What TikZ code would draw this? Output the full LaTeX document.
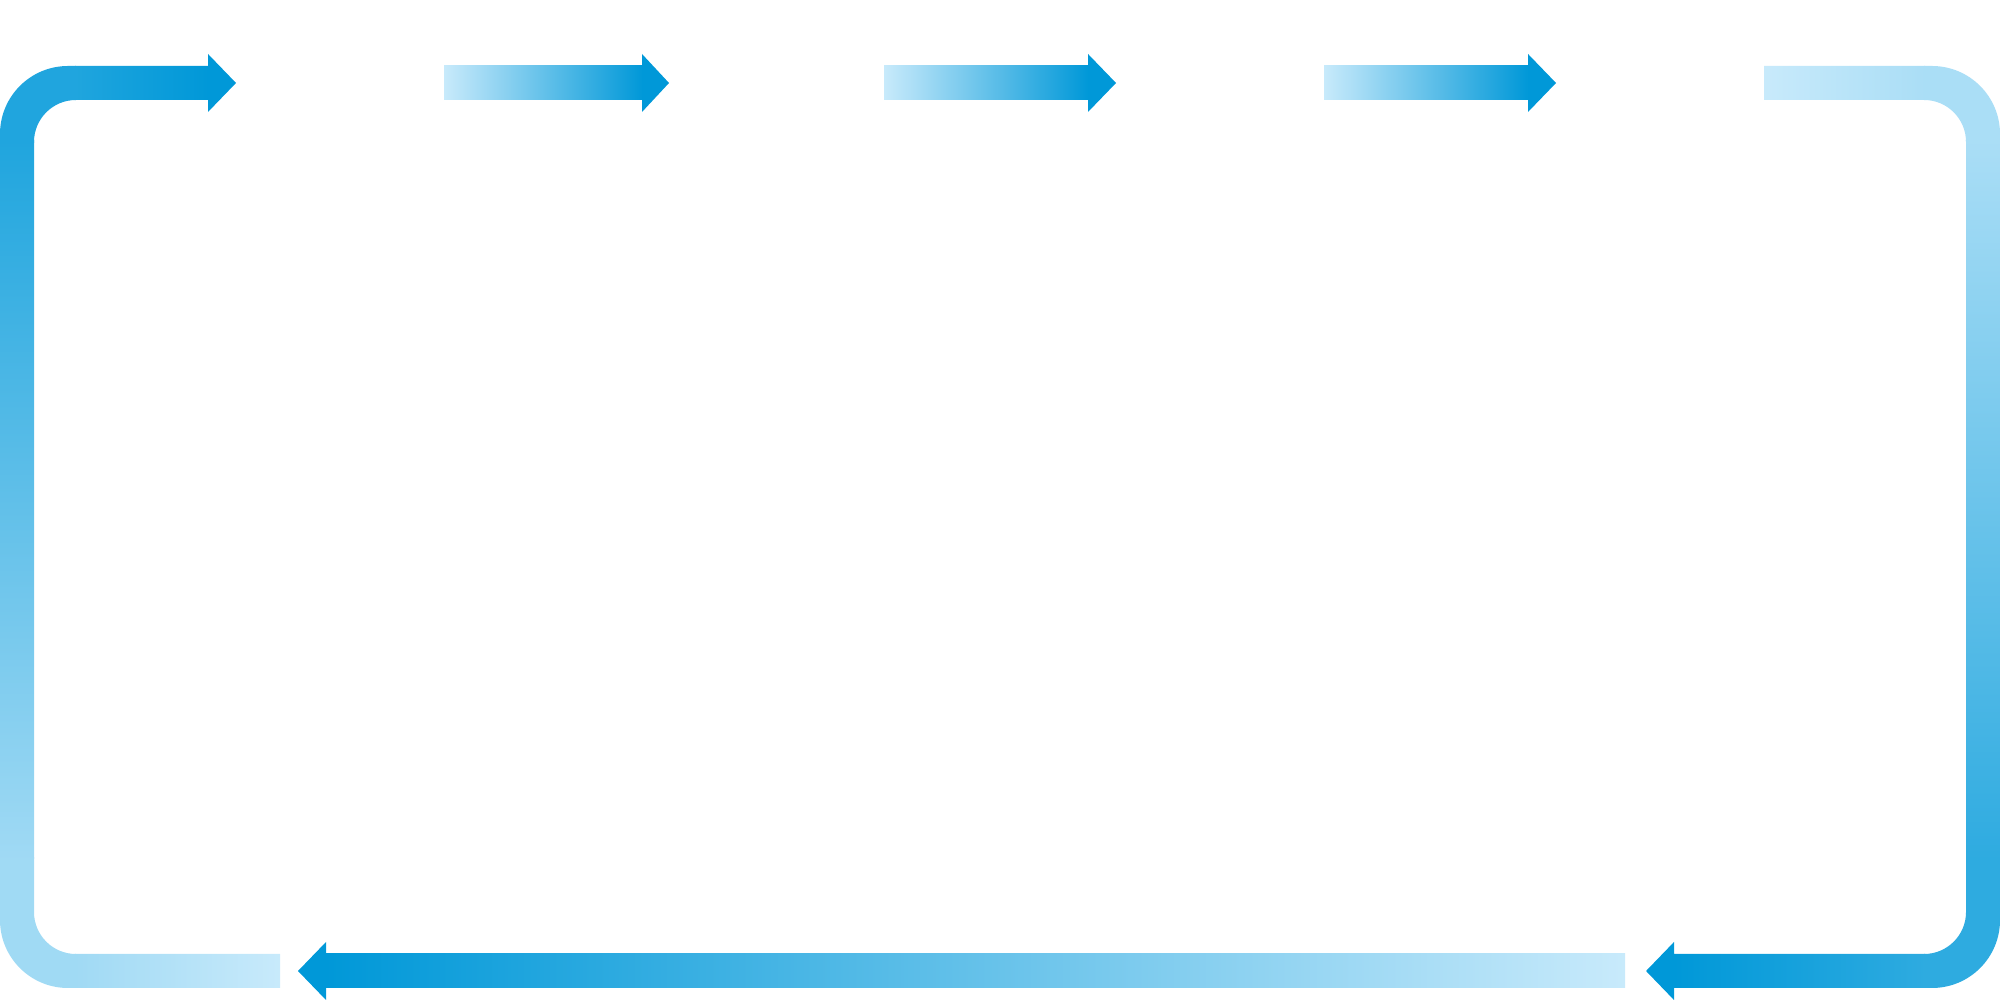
\documentclass[tikz,border=0pt]{standalone}
\definecolor{lightc}{RGB}{200,234,251}
\definecolor{darkc}{RGB}{0,152,216}
\colorlet{cBL}{darkc!20!lightc}
\colorlet{cTL}{darkc!84!lightc}
\colorlet{cTR}{darkc!15!lightc}
\colorlet{cBR}{darkc!77!lightc}
\begin{document}
\begin{tikzpicture}[x=0.5pt,y=0.5pt]
\useasboundingbox (0,0) rectangle (2000,1000);
\tikzset{headfill/.style={fill=darkc,draw=none}}
% ---------- left loop piece (light at bottom right -> dark at top arrow) ----------
\begin{scope}
\clip (280,12) -- (68,12) arc (270:180:68) -- (0,866) arc (180:90:68)
  -- (208,934) -- (208,946) -- (236,917) -- (208,888) -- (208,900) -- (76,900)
  arc (90:180:42) -- (34,88) arc (180:270:42) -- (280,46) -- cycle;
\shade[left color=cBL,right color=lightc] (75,-5) rectangle (281,60);
\fill[cBL] (-5,-5) rectangle (76,143);
\shade[bottom color=cBL,top color=cTL] (-5,141) rectangle (60,859);
\fill[cTL] (-5,857) rectangle (76,960);
\shade[left color=cTL,right color=darkc] (75,880) rectangle (208.5,960);
\fill[darkc] (208,880) rectangle (240,960);
\end{scope}
% ---------- top straight arrows ----------
\shade[left color=lightc,right color=darkc] (444,900) rectangle (642.5,934);
\fill[headfill] (642,946) -- (669,917) -- (642,888) -- cycle;
\shade[left color=lightc,right color=darkc] (884,900) rectangle (1088.5,934);
\fill[headfill] (1088,946) -- (1116,917) -- (1088,888) -- cycle;
\shade[left color=lightc,right color=darkc] (1324,900) rectangle (1528.5,934);
\fill[headfill] (1528,946) -- (1556,917) -- (1528,888) -- cycle;
% ---------- right loop piece (light at top -> dark at bottom arrow) ----------
\begin{scope}
\clip (1764,934) -- (1932,934) arc (90:0:68) -- (2000,80) arc (0:-90:68)
  -- (1674,12) -- (1674,0) -- (1646,29) -- (1674,58) -- (1674,46) -- (1924,46)
  arc (-90:0:42) -- (1966,858) arc (0:90:42) -- (1764,900) -- cycle;
\shade[left color=lightc,right color=cTR] (1763,880) rectangle (1925,950);
\fill[cTR] (1924,857) rectangle (2005,950);
\shade[top color=cTR,bottom color=cBR] (1940,141) rectangle (2005,859);
\fill[cBR] (1924,-5) rectangle (2005,143);
\shade[left color=darkc,right color=cBR] (1673.5,-5) rectangle (1925,60);
\fill[darkc] (1640,-5) rectangle (1674,60);
\end{scope}
% ---------- bottom long arrow ----------
\shade[left color=darkc,right color=lightc] (325.5,12) rectangle (1625,46);
\fill[headfill] (326,58) -- (298,29) -- (326,0) -- cycle;
\end{tikzpicture}
\end{document}
